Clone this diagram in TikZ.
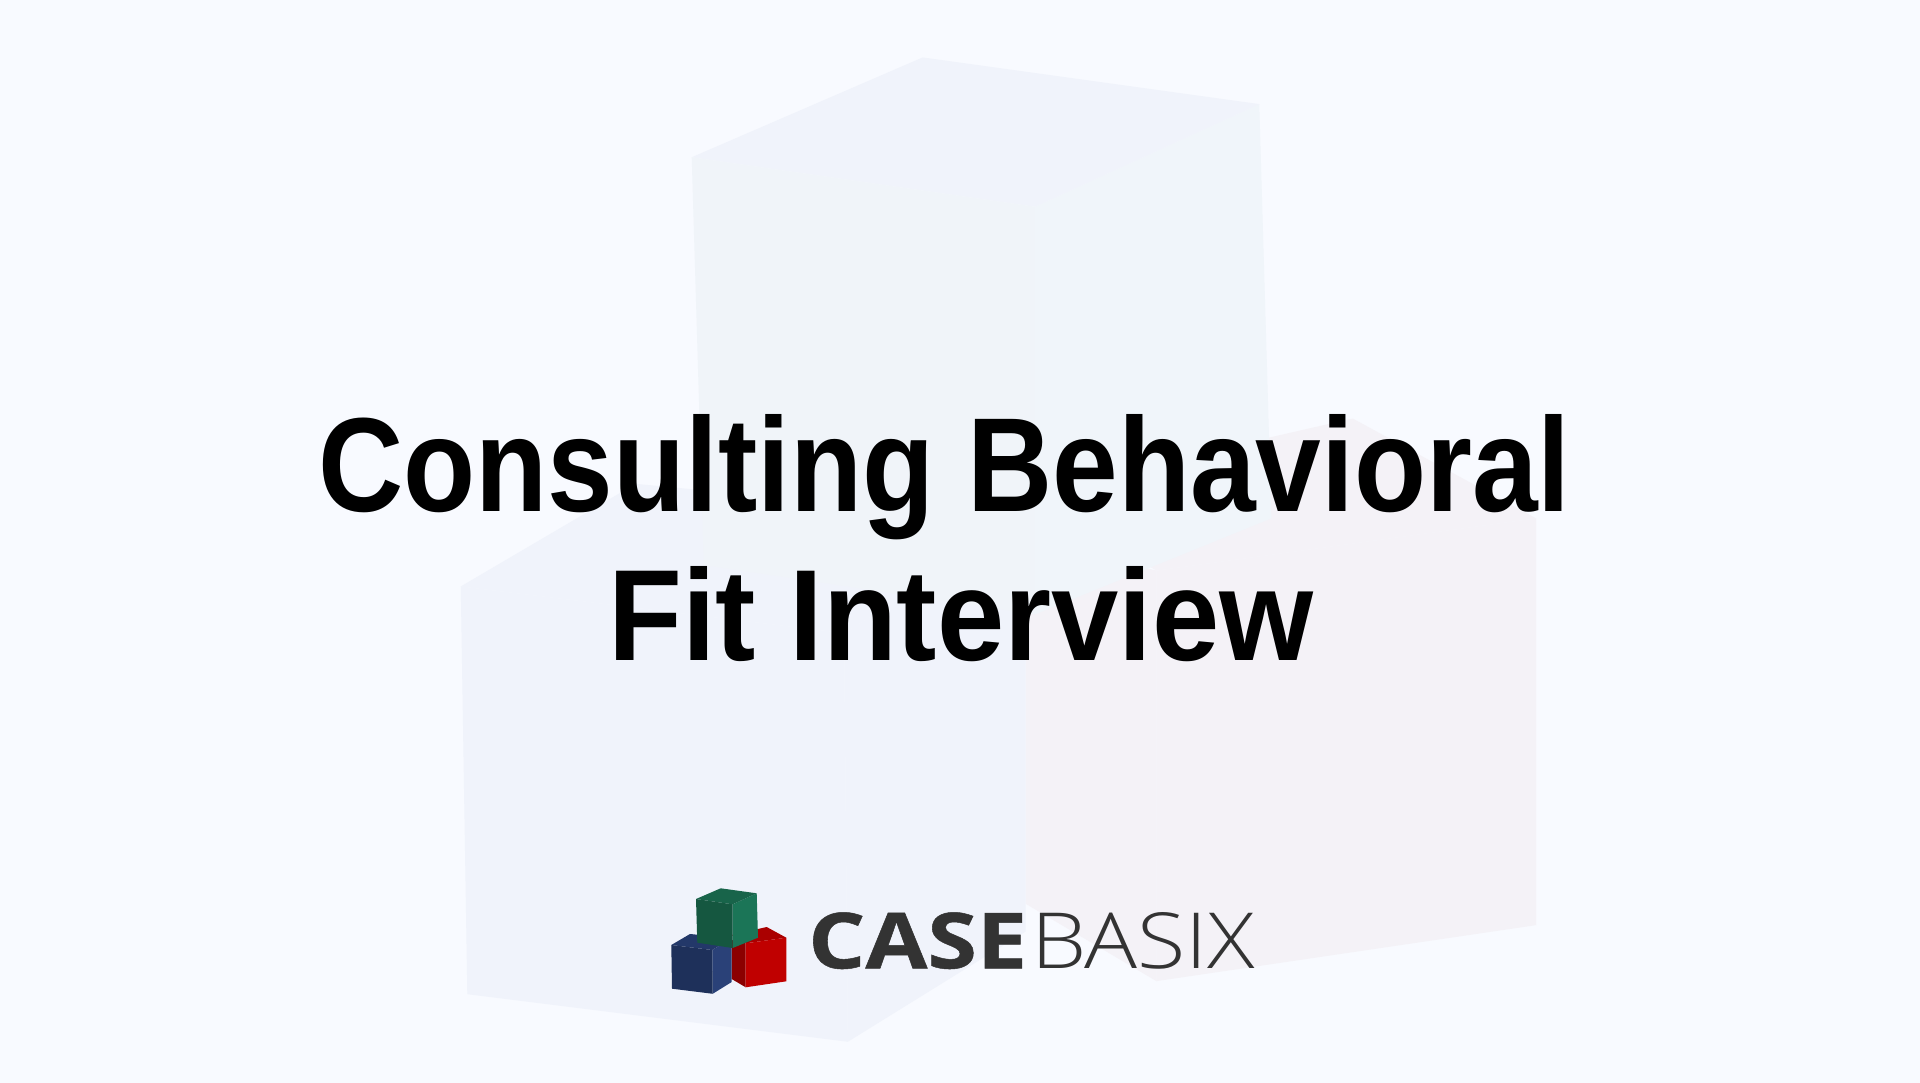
\documentclass[tikz,border=0pt]{standalone}
\usepackage{fontspec}
\usepackage{graphicx}
\setmainfont{Liberation Sans}
\newfontfamily\logobold{Open Sans}[UprightFont=* Bold,FakeBold=0.6]
\newfontfamily\logolight{Open Sans}[UprightFont=* Light]
\definecolor{pagebg}{HTML}{F8FAFF}
\definecolor{logotext}{RGB}{51,51,51}
\tikzset{
  gfrontfill/.style={fill={rgb,255:red,21;green,87;blue,64}},
  gtopfill/.style={fill={rgb,255:red,24;green,100;blue,74}},
  gsidefill/.style={fill={rgb,255:red,27;green,117;blue,87}},
  bfrontfill/.style={fill={rgb,255:red,30;green,48;blue,90}},
  btopfill/.style={fill={rgb,255:red,35;green,56;blue,105}},
  bsidefill/.style={fill={rgb,255:red,42;green,65;blue,120}},
  rfrontfill/.style={fill={rgb,255:red,192;green,0;blue,0}},
  rtopfill/.style={fill={rgb,255:red,170;green,0;blue,0}},
  rsidefill/.style={fill={rgb,255:red,139;green,0;blue,0}},
  faintlogo/.style={
    gfrontfill/.style={fill={rgb,255:red,240;green,244;blue,249}},
    gtopfill/.style={fill={rgb,255:red,240;green,243;blue,251}},
    gsidefill/.style={fill={rgb,255:red,240;green,245;blue,250}},
    bfrontfill/.style={fill={rgb,255:red,240;green,243;blue,251}},
    btopfill/.style={fill={rgb,255:red,240;green,243;blue,251}},
    bsidefill/.style={fill={rgb,255:red,240;green,243;blue,251}},
    rfrontfill/.style={fill={rgb,255:red,244;green,242;blue,247}},
    rtopfill/.style={fill={rgb,255:red,244;green,242;blue,247}},
    rsidefill/.style={fill={rgb,255:red,244;green,242;blue,247}}
  },
  cubes/.pic={
    % red cube
    \path[rsidefill] (731.7,940) -- (745.7,943.3) -- (745.7,987.3) -- (731.7,979) -- cycle;
    \path[rtopfill] (731.7,935) -- (766.7,927) -- (786.3,937.7) -- (745.7,943.3) -- cycle;
    \path[rfrontfill] (745.7,943.3) -- (786.3,937.7) -- (786.3,981.3) -- (745.7,987.3) -- cycle;
    % blue cube
    \path[bsidefill] (712.3,950) -- (731.7,938) -- (731.7,982) -- (712.7,993.8) -- cycle;
    \path[btopfill] (671.3,945) -- (690,934) -- (731.7,938) -- (712.3,950) -- cycle;
    \path[bfrontfill] (671.3,945) -- (712.3,950) -- (712.7,993.8) -- (672,988.7) -- cycle;
    % green cube
    \path[gsidefill] (732.7,904.3) -- (756.7,893.3) -- (758,937.7) -- (732.7,948) -- cycle;
    \path[gtopfill] (696,899) -- (720.7,888.3) -- (756.7,893.3) -- (732.7,904.3) -- cycle;
    \path[gfrontfill] (696,899) -- (732.7,904.3) -- (732.7,948) -- (697.3,942.7) -- cycle;
  },
  titletext/.style={inner sep=0pt,anchor=base west,text=black},
  logotxt/.style={inner sep=0pt,anchor=base west,text=logotext}
}
\begin{document}
\begin{tikzpicture}[x=1pt,y=-1pt]
\useasboundingbox (0,0) rectangle (1920,1083);
\fill[pagebg] (0,0) rectangle (1920,1083);
% faint enlarged logo
\begin{scope}[faintlogo]
  \pic[shift={(-5815.9,-8230.4)},xscale=9.35,yscale=9.33] {cubes};
\end{scope}
% logo
\pic {cubes};
% title
\node[titletext] (line1) at (318,511) {\resizebox{1251pt}{97pt}{\bfseries Consulting Behavioral}};
\node[titletext] (line2) at (608,660) {\resizebox{705pt}{94pt}{\bfseries Fit Interview}};
% wordmark
\node[logotxt] (case) at (808,968.3) {\resizebox{219pt}{56pt}{\logobold CASE}};
\node[logotxt] (basix) at (1031,968.3) {\resizebox{224pt}{56pt}{\logolight BASIX}};
\end{tikzpicture}
\end{document}
